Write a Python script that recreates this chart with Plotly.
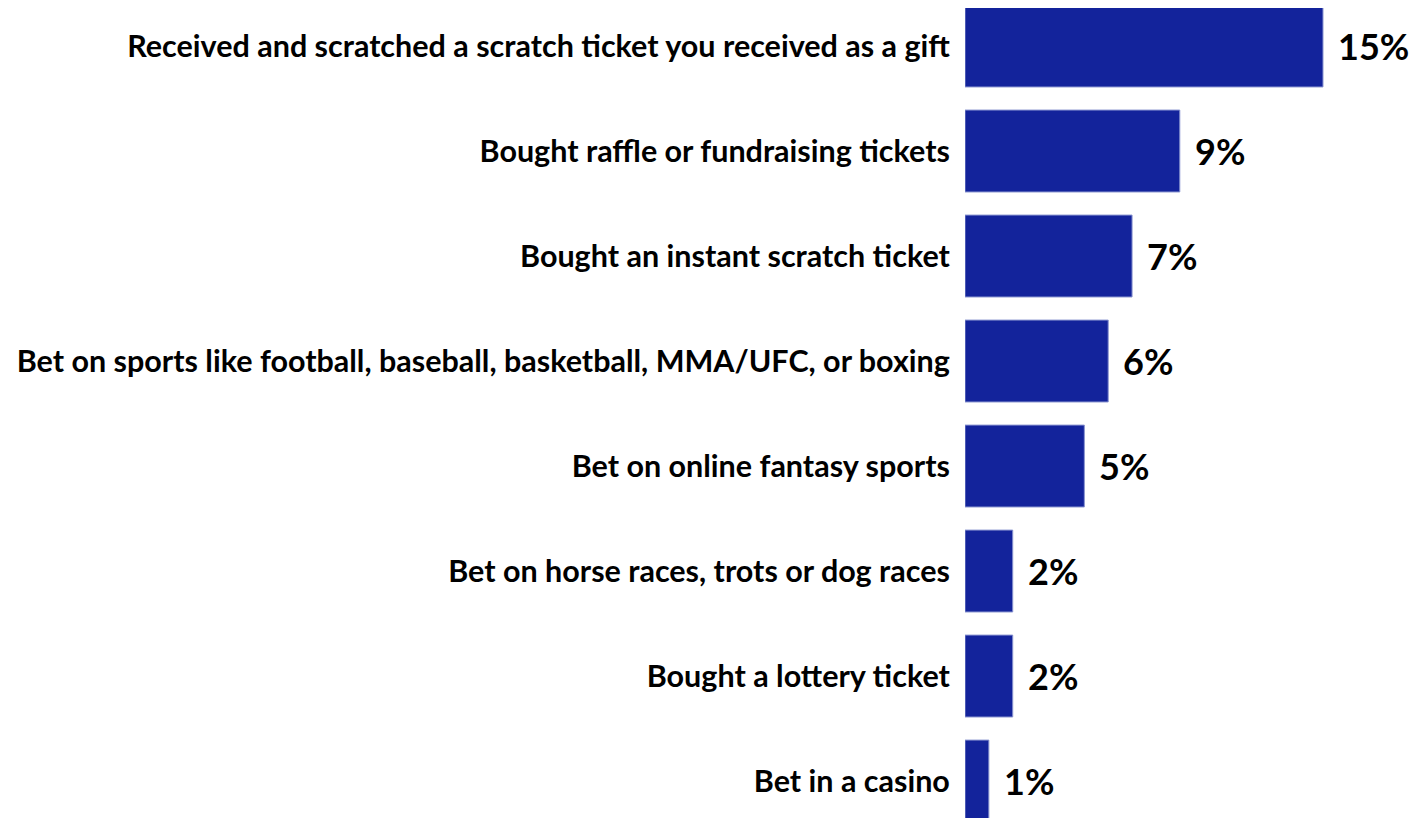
import plotly.graph_objects as go

categories = [
    "Received and scratched a scratch ticket you received as a gift",
    "Bought raffle or fundraising tickets",
    "Bought an instant scratch ticket",
    "Bet on sports like football, baseball, basketball, MMA/UFC, or boxing",
    "Bet on online fantasy sports",
    "Bet on horse races, trots or dog races",
    "Bought a lottery ticket",
    "Bet in a casino",
]
values = [15, 9, 7, 6, 5, 2, 2, 1]
value_labels = [f"{v}%" for v in values]

FONT = "Lato"
BAR = "#13239B"

fig = go.Figure()
fig.add_trace(go.Bar(
    x=values, y=categories, orientation="h",
    marker=dict(color=BAR, line=dict(color="#8893CF", width=1)),
    width=0.78, hoverinfo="skip",
))
for c, v, t in zip(categories, values, value_labels):
    fig.add_annotation(x=v, y=c, text=f"<b>{t}</b>", showarrow=False,
                       xanchor="left", yanchor="middle", xshift=13,
                       font=dict(family=FONT, size=36, color="#000000"))

fig.update_layout(
    width=1420, height=810,
    margin=dict(l=957, r=0, t=0, b=0, autoexpand=False),
    plot_bgcolor="white", paper_bgcolor="white",
    showlegend=False,
    font=dict(family=FONT, color="#000000"),
    xaxis=dict(range=[0, 19.40], visible=False, fixedrange=True),
    yaxis=dict(range=[7.352, -0.362], type="category",
               ticks="outside", ticklen=8, tickcolor="white",
               showline=False, showgrid=False, automargin=False,
               tickfont=dict(family=FONT, size=30.5, color="#000000", weight="bold")),
)
fig.write_html("out.html")
